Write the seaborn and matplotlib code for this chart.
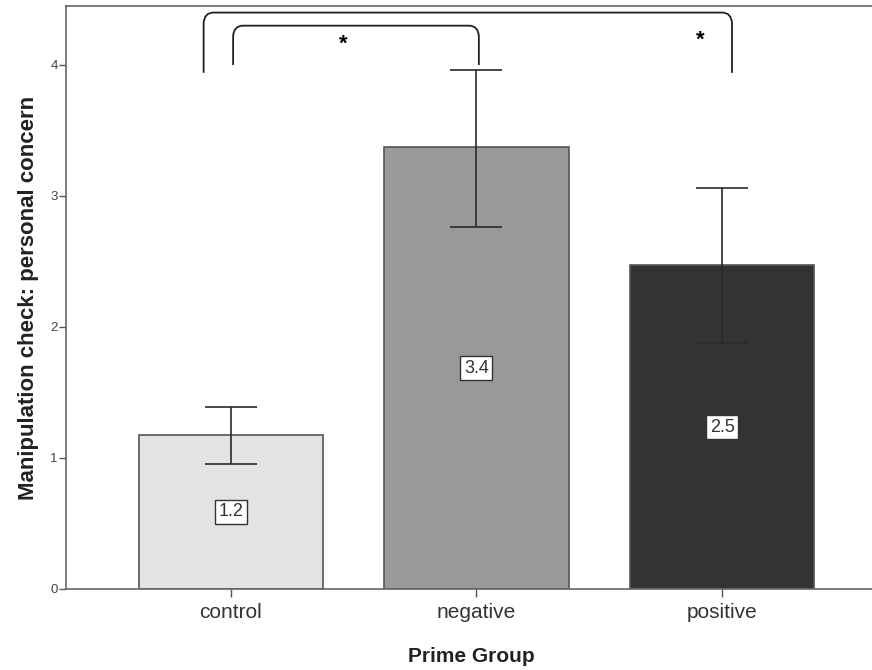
import matplotlib
matplotlib.use("Agg")
import matplotlib.pyplot as plt
import seaborn as sns
import pandas as pd
import numpy as np
from matplotlib.path import Path
from matplotlib.patches import PathPatch

groups = ["control", "negative", "positive"]
means = [1.175, 3.37, 2.47]
err_low = [0.95, 2.76, 1.88]
err_high = [1.39, 3.96, 3.06]
value_labels = ["1.2", "3.4", "2.5"]
bar_colors = ["#e3e3e3", "#999999", "#333333"]

sns.set_theme(style="white")
plt.rcParams["font.family"] = ["Liberation Sans", "DejaVu Sans"]

fig = plt.figure(figsize=(8.72, 6.70), dpi=100)
ax = fig.add_axes([0.0757, 0.121, 0.93, 0.870])

df = pd.DataFrame({"group": groups, "mean": means})
sns.barplot(data=df, x="group", y="mean", hue="group", palette=bar_colors,
            width=0.75, edgecolor="#555555", linewidth=1.2, legend=False, ax=ax)

x = np.arange(len(groups))
m = np.array(means)
ax.errorbar(x, m, yerr=[m - np.array(err_low), np.array(err_high) - m],
            fmt="none", ecolor="#2a2a2a", elinewidth=1.2, capsize=19, capthick=1.2,
            zorder=5)

for xi, mi, lab in zip(x, means, value_labels):
    ax.text(xi, mi / 2, lab, ha="center", va="center", fontsize=13, color="#333333",
            zorder=6,
            bbox=dict(boxstyle="square,pad=0.2", fc="white", ec="#333333", lw=1.0))

def bracket(x0, x1, ybot_l, ybot_r, ytop):
    r = 0.04
    verts = [(x0, ybot_l), (x0, ytop - 0.08), (x0 + 0.003, ytop), (x0 + r, ytop),
             (x1 - r, ytop), (x1 - 0.003, ytop), (x1, ytop - 0.08), (x1, ybot_r)]
    codes = [Path.MOVETO, Path.LINETO, Path.CURVE3, Path.CURVE3,
             Path.LINETO, Path.CURVE3, Path.CURVE3, Path.LINETO]
    ax.add_patch(PathPatch(Path(verts, codes), fill=False, ec="#222222", lw=1.3,
                           clip_on=False))

bracket(-0.11, 2.04, 3.94, 3.94, 4.40)
bracket(0.01, 1.01, 4.00, 4.00, 4.30)
ax.text(0.46, 4.16, "*", ha="center", va="center", fontsize=16, fontweight="bold", color="black")
ax.text(1.91, 4.19, "*", ha="center", va="center", fontsize=16, fontweight="bold", color="black")

ax.set_xlim(-0.67, 2.63)
ax.set_ylim(0, 4.45)
ax.set_yticks([0, 1, 2, 3, 4])
ax.set_yticklabels(["0", "1", "2", "3", "4"], fontsize=9.5, color="#444444")
ax.tick_params(axis="y", length=5, width=1, color="#555555", left=True, pad=1)
ax.tick_params(axis="x", length=6, width=1, color="#555555", bottom=True, labelsize=15,
               labelcolor="#333333", pad=4)
for s in ax.spines.values():
    s.set_color("#666666")
    s.set_linewidth(1.2)

ax.set_xlabel("Prime Group", fontsize=15, fontweight="bold", color="#222222", labelpad=18)
ax.set_ylabel("Manipulation check: personal concern", fontsize=16, fontweight="bold",
              color="#222222", labelpad=8)

fig.savefig("out.png", dpi=100)
